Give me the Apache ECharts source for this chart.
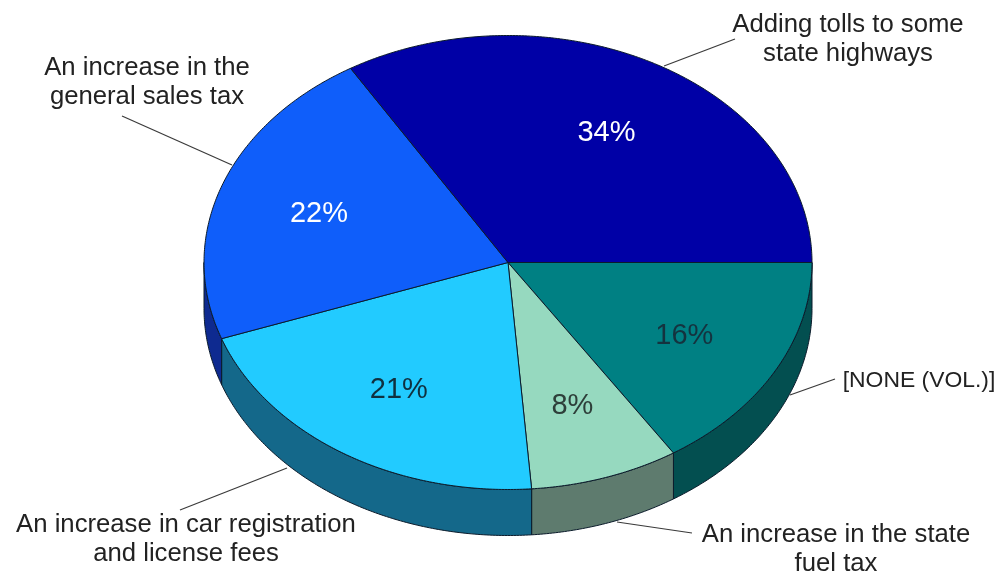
<!DOCTYPE html>
<html>
<head>
<meta charset="utf-8">
<script src="https://cdn.jsdelivr.net/npm/echarts@6/dist/echarts.min.js"></script>
<style>html,body{margin:0;padding:0;background:#fff}#c{width:1000px;height:575px}</style>
</head>
<body>
<div id="c"></div>
<script>
// Data, clockwise from the east edge of the pie
var categories = ['[NONE (VOL.)]', 'An increase in the state\nfuel tax', 'An increase in car registration\nand license fees', 'An increase in the\ngeneral sales tax', 'Adding tolls to some\nstate highways'];
var values = [16, 8, 21, 22, 34];

// Styles
var topColors = ['#008083', '#96D9BF', '#22CBFF', '#0F5EFA', '#0000A6'];
var wallColors = ['#034F50', '#5E7B6E', '#14688A', '#0E2A90', '#000060'];
var pctColors = ['#14333F', '#2E3F3A', '#10303F', '#FFFFFF', '#FFFFFF'];
var labelFontSizes = [22.9, 25.7, 25.7, 25.7, 25.7];

// Layout
var CX = 508, CY = 262.5, RX = 304, RY = 227, DEPTH = 46;
var labelPos = [[919, 381], [836, 549], [186, 539], [147, 82], [848, 39]];
var leaders = [
  [[790, 395], [835, 379]],
  [[617, 522], [692, 533]],
  [[287, 468], [180, 510]],
  [[232, 165], [122, 116]],
  [[664, 66], [735, 39]]
];

var total = values.reduce(function (a, b) { return a + b; }, 0);
function sliceAngles(i) {
  var before = 0;
  for (var k = 0; k < i; k++) before += values[k];
  return [before / total * 2 * Math.PI, (before + values[i]) / total * 2 * Math.PI];
}
function arc(a0, a1, dy) {
  var pts = [], n = Math.max(2, Math.ceil((a1 - a0) / 0.01));
  for (var j = 0; j <= n; j++) {
    var a = a0 + (a1 - a0) * j / n;
    pts.push([CX + RX * Math.cos(a), CY + RY * Math.sin(a) + dy]);
  }
  return pts;
}
function style(fill) { return { fill: fill, stroke: '#0B1B2B', lineWidth: 1, lineJoin: 'round' }; }

function renderWall(params) {
  var i = params.dataIndex, s = sliceAngles(i);
  var a0 = s[0], a1 = Math.min(s[1], Math.PI);
  if (a0 >= a1) return { type: 'group', children: [] };
  var pts = arc(a0, a1, 0).concat(arc(a0, a1, DEPTH).reverse());
  return { type: 'polygon', shape: { points: pts }, style: style(wallColors[i]) };
}
function renderTop(params) {
  var i = params.dataIndex, s = sliceAngles(i);
  var pts = [[CX, CY]].concat(arc(s[0], s[1], 0));
  return { type: 'polygon', shape: { points: pts }, style: style(topColors[i]) };
}
function renderLabels(params) {
  var i = params.dataIndex, s = sliceAngles(i), mid = (s[0] + s[1]) / 2;
  return {
    type: 'group',
    children: [
      { type: 'line',
        shape: { x1: leaders[i][0][0], y1: leaders[i][0][1], x2: leaders[i][1][0], y2: leaders[i][1][1] },
        style: { stroke: '#3A3A3A', lineWidth: 1.2 } },
      { type: 'text',
        style: { x: labelPos[i][0], y: labelPos[i][1], text: categories[i], align: 'center', verticalAlign: 'middle',
                 fill: '#222222', font: labelFontSizes[i] + 'px "Liberation Sans", Arial, sans-serif', lineHeight: 29 } },
      { type: 'text',
        style: { x: CX + 0.66 * RX * Math.cos(mid), y: CY + 1.5 + 0.66 * RY * Math.sin(mid), text: values[i] + '%',
                 align: 'center', verticalAlign: 'middle', fill: pctColors[i],
                 font: '29px "Liberation Sans", Arial, sans-serif' } }
    ]
  };
}
var chart = echarts.init(document.getElementById('c'), null, { renderer: 'canvas' });
chart.setOption({
  animation: false,
  backgroundColor: '#ffffff',
  tooltip: { show: false },
  series: [
    { type: 'custom', coordinateSystem: 'none', z: 1, silent: true, data: values, renderItem: renderWall },
    { type: 'custom', coordinateSystem: 'none', z: 2, silent: true, data: values, renderItem: renderTop },
    { type: 'custom', coordinateSystem: 'none', z: 3, silent: true, data: values, renderItem: renderLabels }
  ]
});
</script>
</body>
</html>
